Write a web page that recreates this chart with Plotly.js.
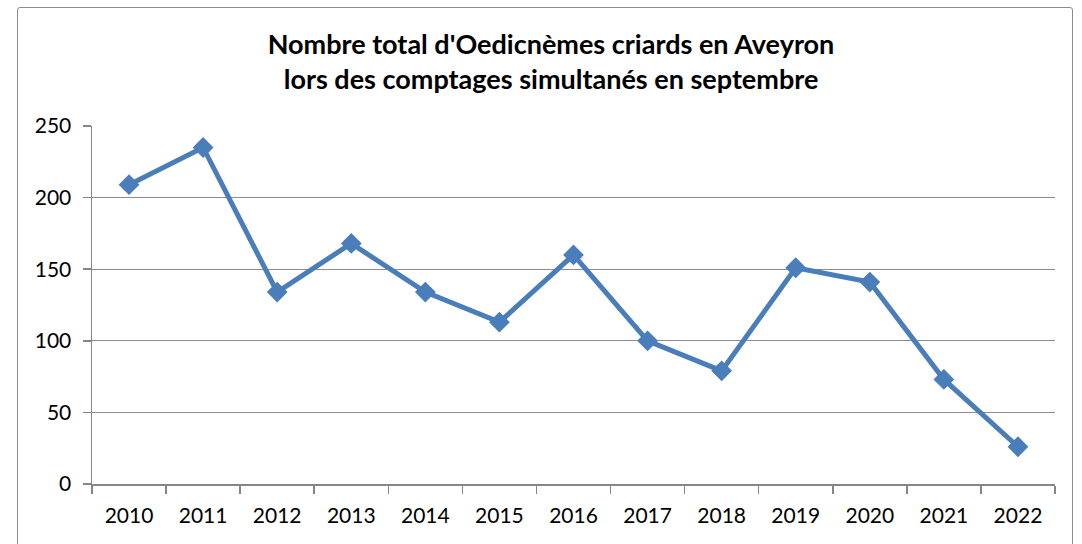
<!DOCTYPE html>
<html><head><meta charset="utf-8">
<script src="https://cdn.plot.ly/plotly-3.0.1.min.js"></script>
<style>
html,body{margin:0;padding:0;background:#fff;}
#wrap{position:relative;width:1082px;height:544px;overflow:hidden;}
#frame{position:absolute;left:17px;top:7px;width:1054px;height:560px;border:1.5px solid #8c8c8c;border-radius:3px;pointer-events:none;}
#chart{position:absolute;left:0;top:0;width:1082px;height:544px;}
</style></head>
<body>
<div id="wrap"><div id="chart"></div><div id="frame"></div></div>
<script>
const years = ["2010","2011","2012","2013","2014","2015","2016","2017","2018","2019","2020","2021","2022"];
const counts = [209, 235, 134, 168, 134, 113, 160, 100, 79, 151, 141, 73, 26];
const yTicks = [0, 50, 100, 150, 200, 250];
const titleText = "Nombre total d'Oedicnèmes criards en Aveyron<br>lors des comptages simultanés en septembre";

const font = "Lato, 'Open Sans', 'Liberation Sans', sans-serif";
Plotly.newPlot('chart', [{
  x: years, y: counts, type: 'scatter', mode: 'lines+markers',
  line: {color: '#4A7EBB', width: 5},
  marker: {symbol: 'diamond', size: 16, color: '#4A7EBB'},
  hoverinfo: 'x+y'
}], {
  width: 1082, height: 544,
  margin: {l: 92, r: 27, t: 126, b: 60},
  paper_bgcolor: 'rgba(0,0,0,0)', plot_bgcolor: '#fff',
  showlegend: false,
  title: {text: '<b>' + titleText + '</b>', xref: 'container', x: 551/1082, xanchor: 'center',
          yref: 'container', y: 1 - 54/544, yanchor: 'middle',
          font: {family: font, size: 27, color: '#000', lineheight: 1.2}},
  xaxis: {type: 'category', range: [-0.5, 12.5], tickson: 'boundaries',
          ticks: 'outside', ticklen: 8, tickcolor: '#868686', tickwidth: 1.5,
          showline: true, linecolor: '#868686', linewidth: 1.5, showgrid: false, zeroline: false,
          tickfont: {family: font, size: 21, color: '#000'}, ticklabelstandoff: 12, fixedrange: true},
  yaxis: {range: [0, 250], tickvals: yTicks, ticktext: yTicks.map(String),
          ticks: 'outside', ticklen: 8, tickcolor: '#868686', tickwidth: 1.5,
          showline: true, linecolor: '#868686', linewidth: 1.5,
          showgrid: true, gridcolor: '#8c8c8c', gridwidth: 1.2, zeroline: false,
          tickfont: {family: font, size: 21, color: '#000'}, ticklabelstandoff: 7, fixedrange: true}
}, {displayModeBar: false, staticPlot: true});
</script>
</body></html>
